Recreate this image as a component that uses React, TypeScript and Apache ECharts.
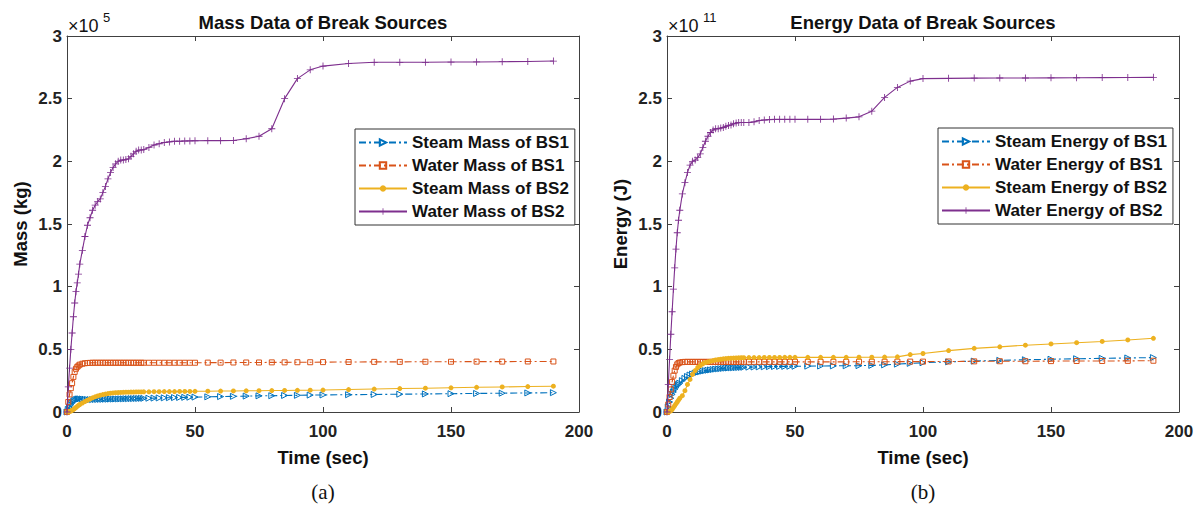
import React, { useEffect, useRef } from "react";
import * as echarts from "echarts";

// time grid (s)
const TIME = [0,0.5,1,1.5,2,2.5,3,3.5,4,4.5,5,6,7,8,9,10,11,12,13,14,15,16,17,18,19,20,21,22,23,24,25,26,27,28,29,30,32,34,36,38,40,42,44,46,48,50,55,60,65,70,75,80,85,90,95,100,110,120,130,140,150,160,170,180,190];

// Mass (x10^5 kg)
const steamMassBS1 = [0,0.02,0.04,0.058,0.072,0.083,0.092,0.098,0.102,0.104,0.105,0.104,0.102,0.1,0.099,0.099,0.1,0.1,0.101,0.101,0.102,0.102,0.103,0.103,0.104,0.104,0.105,0.105,0.106,0.106,0.107,0.107,0.108,0.108,0.109,0.109,0.11,0.111,0.112,0.113,0.114,0.115,0.116,0.117,0.118,0.119,0.121,0.123,0.125,0.127,0.129,0.13,0.132,0.133,0.135,0.136,0.138,0.14,0.142,0.144,0.146,0.148,0.15,0.152,0.154];
const waterMassBS1 = [0,0.08,0.14,0.19,0.23,0.28,0.32,0.345,0.36,0.37,0.378,0.385,0.389,0.391,0.392,0.393,0.393,0.393,0.393,0.393,0.393,0.393,0.393,0.393,0.393,0.393,0.393,0.393,0.393,0.393,0.393,0.393,0.393,0.393,0.393,0.393,0.393,0.393,0.393,0.393,0.393,0.393,0.393,0.393,0.393,0.393,0.394,0.394,0.395,0.395,0.395,0.396,0.396,0.397,0.397,0.398,0.399,0.4,0.4,0.401,0.401,0.402,0.402,0.403,0.403];
const steamMassBS2 = [0,0,0.004,0.008,0.013,0.02,0.028,0.036,0.045,0.053,0.06,0.072,0.083,0.094,0.104,0.113,0.121,0.128,0.134,0.139,0.143,0.147,0.15,0.152,0.154,0.155,0.156,0.157,0.158,0.158,0.159,0.159,0.16,0.16,0.16,0.161,0.161,0.162,0.162,0.163,0.163,0.163,0.164,0.164,0.164,0.165,0.166,0.167,0.168,0.169,0.17,0.171,0.172,0.173,0.174,0.175,0.179,0.183,0.187,0.19,0.193,0.197,0.2,0.203,0.206];
const waterMassBS2 = [0,0.2,0.35,0.5,0.63,0.76,0.87,0.96,1.03,1.1,1.18,1.29,1.4,1.49,1.55,1.61,1.65,1.68,1.7,1.75,1.8,1.86,1.91,1.95,1.98,2.0,2.01,2.01,2.015,2.02,2.04,2.06,2.08,2.09,2.09,2.095,2.11,2.13,2.14,2.15,2.155,2.16,2.16,2.162,2.163,2.164,2.165,2.165,2.166,2.18,2.2,2.26,2.5,2.66,2.73,2.76,2.78,2.79,2.79,2.79,2.792,2.793,2.795,2.797,2.8];

// Energy (x10^11 J)
const steamEnergyBS1 = [0,0.04,0.08,0.11,0.14,0.16,0.18,0.195,0.21,0.22,0.23,0.25,0.268,0.283,0.295,0.303,0.31,0.316,0.321,0.326,0.33,0.333,0.336,0.339,0.342,0.344,0.346,0.348,0.35,0.351,0.352,0.353,0.354,0.355,0.356,0.357,0.358,0.359,0.36,0.361,0.362,0.363,0.364,0.364,0.365,0.365,0.366,0.367,0.368,0.369,0.37,0.372,0.376,0.382,0.388,0.393,0.4,0.406,0.412,0.417,0.421,0.425,0.428,0.431,0.434];
const waterEnergyBS1 = [0,0.06,0.12,0.18,0.24,0.29,0.33,0.36,0.38,0.39,0.395,0.398,0.4,0.4,0.4,0.4,0.4,0.4,0.4,0.4,0.4,0.4,0.4,0.4,0.4,0.4,0.4,0.4,0.4,0.4,0.4,0.4,0.4,0.4,0.4,0.4,0.4,0.4,0.4,0.4,0.4,0.4,0.4,0.4,0.4,0.4,0.4,0.4,0.4,0.4,0.401,0.401,0.401,0.402,0.402,0.402,0.403,0.404,0.405,0.405,0.406,0.407,0.407,0.408,0.409];
const steamEnergyBS2 = [0,0,0.005,0.01,0.02,0.035,0.05,0.065,0.08,0.095,0.11,0.13,0.17,0.22,0.26,0.3,0.33,0.355,0.37,0.385,0.395,0.4,0.405,0.41,0.415,0.418,0.421,0.424,0.426,0.428,0.429,0.43,0.431,0.432,0.433,0.433,0.434,0.434,0.434,0.435,0.435,0.435,0.435,0.436,0.436,0.436,0.436,0.436,0.436,0.436,0.437,0.437,0.438,0.44,0.458,0.467,0.49,0.508,0.52,0.533,0.543,0.553,0.563,0.575,0.588];
const waterEnergyBS2 = [0,0.22,0.42,0.62,0.8,0.98,1.15,1.3,1.43,1.53,1.61,1.74,1.83,1.91,1.97,2.0,2.01,2.03,2.06,2.11,2.16,2.2,2.23,2.25,2.26,2.26,2.265,2.27,2.28,2.285,2.29,2.3,2.305,2.31,2.31,2.31,2.31,2.315,2.325,2.33,2.333,2.335,2.335,2.335,2.335,2.335,2.335,2.335,2.337,2.345,2.355,2.4,2.51,2.59,2.64,2.66,2.662,2.664,2.665,2.665,2.666,2.667,2.668,2.669,2.67];

const X_TICKS = { min: 0, max: 200, interval: 50 };
const Y_TICKS = { min: 0, max: 3, interval: 0.5 };

const BLUE = "#0072BD";
const ORANGE = "#D95319";
const YELLOW = "#EDB120";
const PURPLE = "#7E2F8E";
const AXIS = "#404040";
const FONT = '"Liberation Sans", Arial, sans-serif';

const TRI = "path://M0,0 L10,5 L0,10 Z";
const PLUS = "path://M4.4,0 L5.6,0 L5.6,4.4 L10,4.4 L10,5.6 L5.6,5.6 L5.6,10 L4.4,10 L4.4,5.6 L0,5.6 L0,4.4 L4.4,4.4 Z";
const DASHDOT = [7, 3, 2, 3];

const pairs = (vals: number[]) => TIME.map((t, i) => [t, vals[i]]);

function makeSeries(names: string[], data: number[][], g: number) {
  const styles = [
    { color: BLUE, type: DASHDOT as any, symbol: TRI, size: 6, hollow: true },
    { color: ORANGE, type: DASHDOT as any, symbol: "rect", size: 5, hollow: true },
    { color: YELLOW, type: "solid", symbol: "circle", size: 5, hollow: false },
    { color: PURPLE, type: "solid", symbol: PLUS, size: 7, hollow: false },
  ];
  return names.map((name, i) => {
    const s = styles[i];
    return {
      name,
      type: "line",
      xAxisIndex: g * 2,
      yAxisIndex: g * 2,
      data: pairs(data[i]),
      symbol: s.symbol,
      symbolSize: s.size,
      showSymbol: true,
      lineStyle: { color: s.color, width: 1.1, type: s.type },
      itemStyle: s.hollow
        ? { color: "rgba(255,255,255,0)", borderColor: s.color, borderWidth: 1 }
        : { color: s.color, borderWidth: 0 },
      emphasis: { disabled: true },
      z: 2 + i,
    };
  });
}

function xAxes(g: number) {
  const base = {
    gridIndex: g,
    type: "value",
    ...X_TICKS,
    axisLine: { show: true, onZero: false, lineStyle: { color: AXIS, width: 1 } },
    axisTick: { show: true, inside: true, length: 5, lineStyle: { color: AXIS } },
    splitLine: { show: false },
  };
  return [
    {
      ...base,
      position: "bottom",
      axisLabel: { show: true, margin: 11, color: "#222", fontSize: 17, fontWeight: "bold", fontFamily: FONT },
      name: "Time (sec)",
      nameLocation: "middle",
      nameGap: 36,
      nameTextStyle: { color: "#111", fontSize: 18.5, fontWeight: "bold", fontFamily: FONT },
    },
    { ...base, position: "top", axisLabel: { show: false } },
  ];
}

function yAxes(g: number, name: string) {
  const base = {
    gridIndex: g,
    type: "value",
    ...Y_TICKS,
    axisLine: { show: true, onZero: false, lineStyle: { color: AXIS, width: 1 } },
    axisTick: { show: true, inside: true, length: 5, lineStyle: { color: AXIS } },
    splitLine: { show: false },
  };
  return [
    {
      ...base,
      position: "left",
      axisLabel: { show: true, margin: 5, color: "#222", fontSize: 17, fontWeight: "bold", fontFamily: FONT, formatter: (v: number) => String(v) },
      name,
      nameLocation: "middle",
      nameGap: 37,
      nameTextStyle: { color: "#111", fontSize: 18.5, fontWeight: "bold", fontFamily: FONT },
    },
    { ...base, position: "right", axisLabel: { show: false } },
  ];
}

function legend(names: string[], left: number, top: number) {
  return {
    data: names,
    orient: "vertical",
    left,
    top,
    padding: [5, 6, 5, 3],
    itemGap: 6,
    itemWidth: 48,
    itemHeight: 8,
    backgroundColor: "#fff",
    borderColor: "#333",
    borderWidth: 1,
    borderRadius: 0,
    selectedMode: false,
    textStyle: { color: "#111", fontSize: 17, fontWeight: "bold", fontFamily: FONT, lineHeight: 16, padding: [0, 0, 0, 0] },
  };
}

function txt(text: string, x: number, y: number, font: string, align = "center") {
  return {
    type: "text",
    x,
    y,
    silent: true,
    style: { text, font, fill: "#111", align, verticalAlign: "middle", textAlign: align, textVerticalAlign: "middle" },
  };
}

const massNames = ["Steam Mass of BS1", "Water Mass of BS1", "Steam Mass of BS2", "Water Mass of BS2"];
const energyNames = ["Steam Energy of BS1", "Water Energy of BS1", "Steam Energy of BS2", "Water Energy of BS2"];

export default function App() {
  const ref = useRef<HTMLDivElement>(null);
  useEffect(() => {
    if (!ref.current) return;
    const chart = echarts.init(ref.current, undefined, { renderer: "svg" });
    chart.setOption({
      animation: false,
      backgroundColor: "#fff",
      grid: [
        { left: 67, top: 36, width: 512, height: 376, containLabel: false },
        { left: 667, top: 36, width: 512, height: 376, containLabel: false },
      ],
      xAxis: [...xAxes(0), ...xAxes(1)],
      yAxis: [...yAxes(0, "Mass (kg)"), ...yAxes(1, "Energy (J)")],
      legend: [legend(massNames, 355, 129), legend(energyNames, 938, 128)],
      series: [
        ...makeSeries(massNames, [steamMassBS1, waterMassBS1, steamMassBS2, waterMassBS2], 0),
        ...makeSeries(energyNames, [steamEnergyBS1, waterEnergyBS1, steamEnergyBS2, waterEnergyBS2], 1),
      ],
      graphic: [
        txt("Mass Data of Break Sources", 323, 22, `bold 18.5px ${FONT}`),
        txt("Energy Data of Break Sources", 923, 22, `bold 18.5px ${FONT}`),
        txt("×10", 68, 26, `18px ${FONT}`, "left"),
        txt("5", 103, 17, `13px ${FONT}`, "left"),
        txt("×10", 668, 26, `18px ${FONT}`, "left"),
        txt("11", 703, 17, `13px ${FONT}`, "left"),
        txt("(a)", 323, 492, `21px "Liberation Serif", "Times New Roman", serif`),
        txt("(b)", 923, 492, `21px "Liberation Serif", "Times New Roman", serif`),
      ],
    });
    return () => chart.dispose();
  }, []);
  return <div ref={ref} style={{ position: "absolute", left: 0, top: 0, width: 1199, height: 506, background: "#fff" }} />;
}
